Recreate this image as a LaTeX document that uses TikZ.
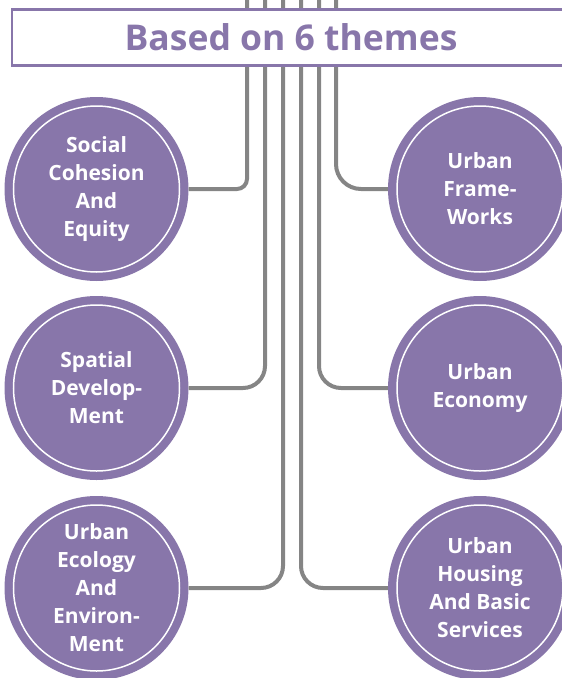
\documentclass[tikz,border=0pt]{standalone}
\usepackage{fontspec}
\setmainfont{Open Sans}
\definecolor{themepurple}{HTML}{8876AA}
\definecolor{linegray}{HTML}{858585}
\begin{document}
\begin{tikzpicture}[x=1pt,y=-1pt,
  theme/.style={circle, fill=themepurple, minimum size=184pt, inner sep=0pt,
    text=white, font=\fontsize{21}{28}\selectfont\bfseries, align=center},
  ring/.style={draw=white, line width=1.5pt},
  conn/.style={draw=linegray, line width=4pt},
  titlebox/.style={draw=themepurple, line width=2.5pt, fill=white,
    minimum width=558pt, minimum height=56pt, inner sep=0pt,
    text=themepurple, font=\fontsize{35.5}{42}\selectfont\bfseries}]
\useasboundingbox (0,0) rectangle (562,678);
\clip (0,0) rectangle (562,678);
% circles
\node[theme] (c1) at (96.5,189) {Social\\Cohesion\\And\\Equity};
\node[theme] (c2) at (96.5,388) {Spatial\\Develop-\\Ment};
\node[theme] (c3) at (96.5,588) {Urban\\Ecology\\And\\Environ-\\Ment};
\node[theme] (c4) at (480,189) {Urban\\Frame-\\Works};
\node[theme] (c5) at (480,388) {Urban\\Economy};
\node[theme] (c6) at (480,588) {Urban\\Housing\\And Basic\\Services};
\foreach \c in {c1,c2,c3,c4,c5,c6}{
  \draw[ring] (\c.center) circle (83pt);
}
% top ends of the connectors
\coordinate (t1) at (247,-5);
\coordinate (t2) at (265,-5);
\coordinate (t3) at (283,-5);
\coordinate (t4) at (301,-5);
\coordinate (t5) at (319,-5);
\coordinate (t6) at (336,-5);
\draw[conn, rounded corners=10pt] (t1) |- (c1.east);
\draw[conn, rounded corners=22pt] (t2) |- (c2.east);
\draw[conn, rounded corners=22pt] (t3) |- (c3.east);
\draw[conn, rounded corners=22pt] (t4) |- (c6.west);
\draw[conn, rounded corners=22pt] (t5) |- (c5.west);
\draw[conn, rounded corners=25pt] (t6) |- (c4.west);
% title box
\node[titlebox] (title) at (291,37.5) {Based on 6 themes};
\end{tikzpicture}
\end{document}
